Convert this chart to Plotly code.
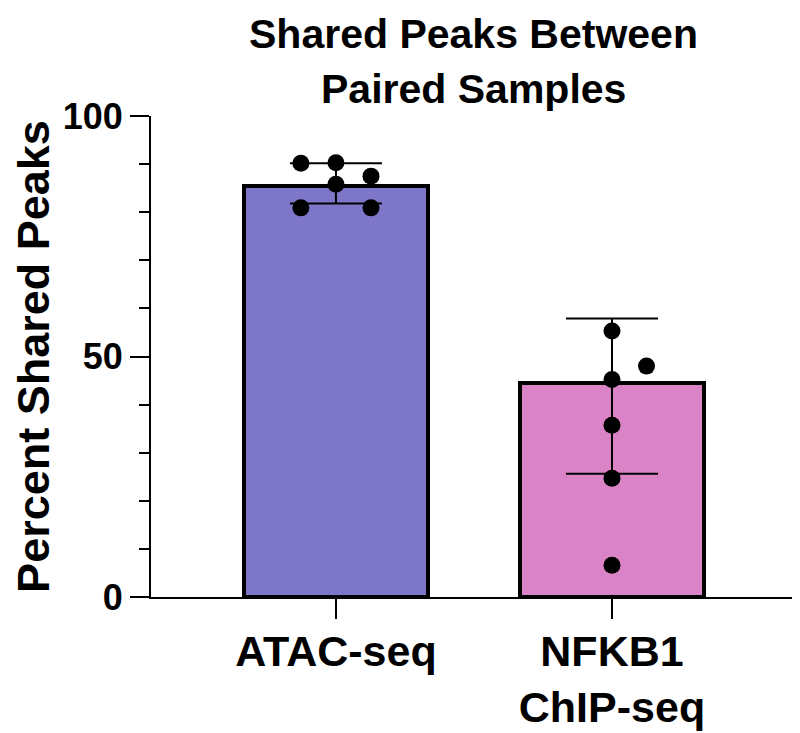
import plotly.graph_objects as go

categories = ["ATAC-seq", "NFKB1<br>ChIP-seq"]
bar_means = [85.4, 44.4]
err_upper = [90.2, 57.9]
err_lower = [81.8, 25.6]
atac_points = [90.2, 90.3, 87.5, 85.8, 80.9, 80.9]
nfkb1_points = [55.3, 48.0, 45.2, 35.7, 24.7, 6.6]
atac_jitter = [-0.127, 0.0, 0.127, 0.0, -0.127, 0.127]
nfkb1_jitter = [0.0, 0.125, 0.0, 0.0, 0.0, 0.0]
bar_colors = ["#7E77C9", "#DA83C6"]
y_ticks = [0, 50, 100]
title_lines = ["Shared Peaks Between", "Paired Samples"]
y_title = "Percent Shared Peaks"

FONT = "Liberation Sans, Arial, sans-serif"
xpos = list(range(len(categories)))

fig = go.Figure()
fig.add_trace(go.Bar(
    x=xpos, y=bar_means, width=0.667,
    marker=dict(color=bar_colors, line=dict(color="black", width=4)),
    error_y=dict(type="data", symmetric=False,
                 array=[u - m for u, m in zip(err_upper, bar_means)],
                 arrayminus=[m - l for l, m in zip(err_lower, bar_means)],
                 color="black", thickness=2, width=46),
    showlegend=False, hoverinfo="skip",
))
px_all = [0 + j for j in atac_jitter] + [1 + j for j in nfkb1_jitter]
py_all = atac_points + nfkb1_points
fig.add_trace(go.Scatter(
    x=px_all, y=py_all, mode="markers",
    marker=dict(color="black", size=17, line=dict(width=0)),
    showlegend=False, hoverinfo="skip",
))

# page body has an 8px margin, so the figure is offset by (8, 8)
fig.update_layout(
    width=792, height=725,
    margin=dict(l=143, r=5, t=108, b=136, autoexpand=False),
    plot_bgcolor="white", paper_bgcolor="white",
    font=dict(family=FONT, color="black", weight=700),
    bargap=0,
)
for line_text, ypos in zip(title_lines, [1.17, 1.056]):
    fig.add_annotation(
        text=line_text, xref="paper", yref="paper", x=0.5, y=ypos,
        xanchor="center", yanchor="middle", showarrow=False,
        font=dict(size=41, family=FONT, color="black", weight=700),
    )
fig.update_xaxes(
    range=[-0.670, 1.663], tickvals=xpos, ticktext=categories,
    showline=True, linecolor="black", linewidth=2,
    ticks="outside", ticklen=20, tickwidth=2, tickcolor="black",
    tickfont=dict(size=43, family=FONT, color="black", weight=700),
    ticklabelstandoff=-5,
    showgrid=False, zeroline=False, automargin=False,
)
fig.update_yaxes(
    range=[0, 100], tickvals=y_ticks,
    showline=True, linecolor="black", linewidth=2,
    ticks="outside", ticklen=19, tickwidth=2, tickcolor="black",
    minor=dict(dtick=10, ticklen=10, tickwidth=2, tickcolor="black", ticks="outside", showgrid=False),
    tickfont=dict(size=36, family=FONT, color="black", weight=700),
    title=dict(text=y_title, standoff=0,
               font=dict(size=45, family=FONT, color="black", weight=700)),
    showgrid=False, zeroline=False, automargin=False,
)
fig.write_html("out.html")
